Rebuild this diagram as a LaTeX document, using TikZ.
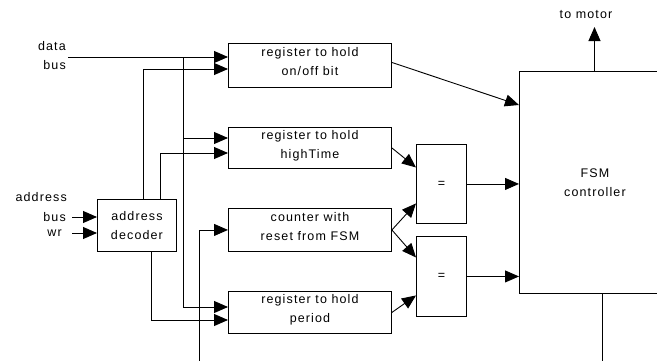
\documentclass[tikz,border=0pt]{standalone}
\usepackage{fontspec}
\setmainfont[LetterSpace=9]{Liberation Sans}
\usetikzlibrary{arrows.meta}

\begin{document}
\begin{tikzpicture}[x=1pt,y=-1pt,
  txt/.style={font=\fontsize{12.5}{19}\selectfont},
  box/.style={txt, draw, line width=0.9pt, anchor=north west, inner sep=0pt, align=center},
  regbox/.style={box, minimum width=163pt, text depth=7pt},
  lbl/.style={txt, inner sep=0pt, align=right},
  wire/.style={line width=0.9pt},
  arr/.style={wire, -{Triangle[length=14pt,width=12pt]}}]
\useasboundingbox (0,0) rectangle (657,360);

% functional blocks
\node[regbox, minimum height=44pt] (reg1) at (228,43) {register to hold\\on/off bit};
\node[regbox, minimum height=41pt] (reg2) at (228,127) {register to hold\\highTime};
\node[regbox, minimum height=43pt] (counter) at (228,208) {counter with\\reset from FSM};
\node[regbox, minimum height=42pt] (period) at (228,291) {register to hold\\period};
\node[box, minimum width=79pt, minimum height=52pt] (decoder) at (97,199) {address\\decoder};
\node[box, minimum width=50pt, minimum height=79pt] (eq1) at (416,144) {=};
\node[box, minimum width=50pt, minimum height=80pt] (eq2) at (416,236) {=};
\node[box, minimum width=151pt, minimum height=222pt] (fsm) at (519,71) {FSM\\controller};

% external signals
\node[lbl, anchor=east] (databus) at (66,56) {data\\bus};
\node[lbl, anchor=east] (addrtxt) at (67,197) {address};
\node[lbl, anchor=east] (addrbus) at (66,217) {bus};
\node[lbl, anchor=east] (wr) at (62,233) {wr};
\node[txt, inner sep=0pt] (motorlbl) at (586,15) {to motor};

% bend and junction points
\coordinate (dsplit) at (183,57);
\coordinate (dtap) at (183,138);
\coordinate (dturn) at (183,307);
\coordinate (s1) at (143,69);
\coordinate (s2) at (160,153);
\coordinate (s3) at (151,320);
\coordinate (rst) at (199,365);
\coordinate (motor) at (594.5,27);
\coordinate (fsmout) at (602,365);

% data bus distribution
\draw[arr] (databus.east |- dsplit) ++(2,0) -- (reg1.west |- dsplit);
\draw[wire] (dsplit) -- (dturn);
\draw[arr] (dtap) -- (reg2.west |- dtap);
\draw[arr] (dturn) -- (period.west |- dturn);

% decoder inputs and load enables
\draw[arr] ([xshift=6pt]addrbus.east) -- (decoder.west |- addrbus.east);
\draw[arr] ([xshift=10pt]wr.east) -- (decoder.west |- wr.east);
\draw[arr] (decoder.north -| s1) -- (s1) -- (reg1.west |- s1);
\draw[arr] (decoder.north -| s2) -- (s2) -- (reg2.west |- s2);
\draw[arr] (decoder.south -| s3) -- (s3) -- (period.west |- s3);

% counter reset from the controller
\draw[arr] (rst) |- (counter.west);

% comparators
\draw[arr] (reg2.east) -- ([yshift=16.5pt]eq1.west);
\draw[arr] (counter.east) -- ([yshift=-19.5pt]eq1.west);
\draw[arr] (counter.east) -- ([yshift=19pt]eq2.west);
\draw[arr] (period.east) -- ([yshift=-19pt]eq2.west);

% controller inputs and outputs
\draw[arr] ([yshift=3pt]reg1.east) -- ([yshift=-34pt]fsm.north west);
\draw[arr] (eq1.east) -- (fsm.west |- eq1.east);
\draw[arr] (eq2.east) -- (fsm.west |- eq2.east);
\draw[arr] (fsm.north -| motor) -- (motor);
\draw[wire] (fsm.south -| fsmout) -- (fsmout);
\end{tikzpicture}
\end{document}
